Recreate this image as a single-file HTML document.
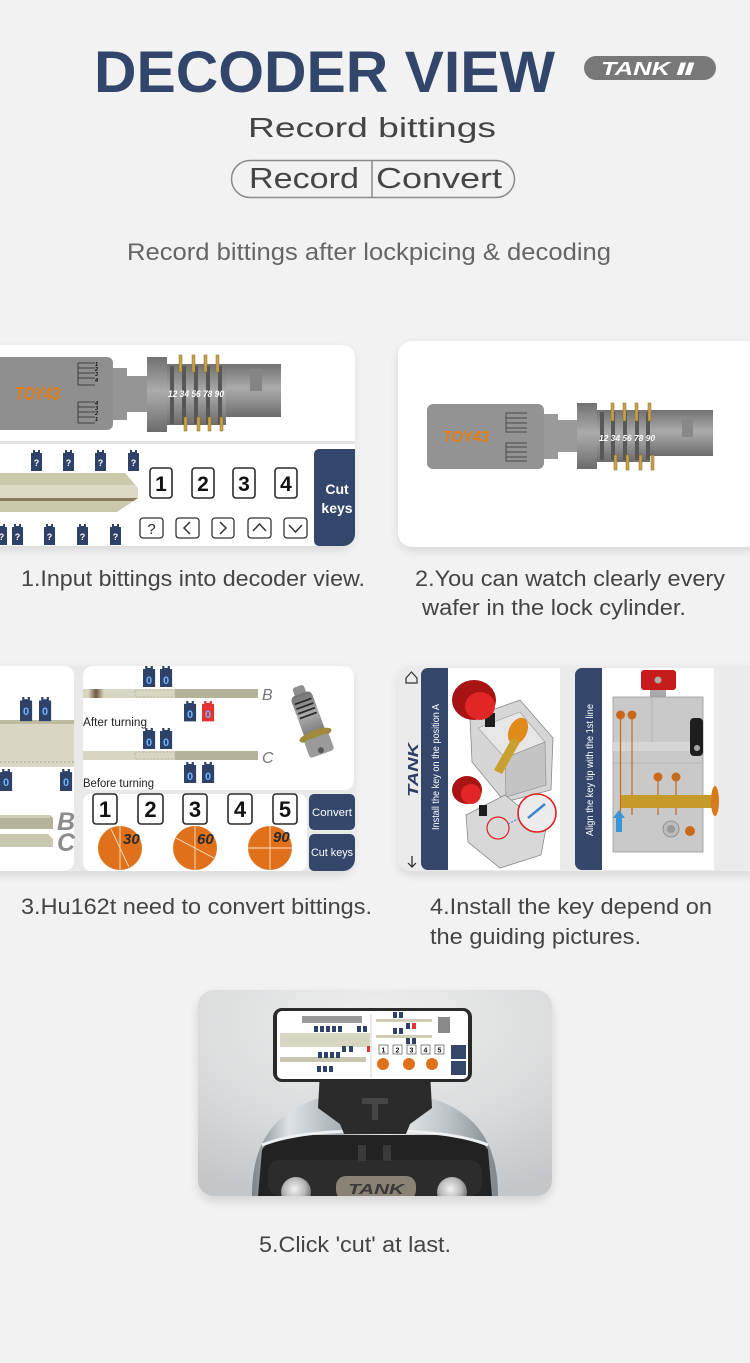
<!DOCTYPE html>
<html><head><meta charset="utf-8"><title>Decoder View</title>
<style>
html,body{margin:0;padding:0;background:#f2f2f2;}
svg{display:block;}
</style></head><body>
<svg width="750" height="1363" viewBox="0 0 750 1363" xmlns="http://www.w3.org/2000/svg" xmlns:xlink="http://www.w3.org/1999/xlink" font-family="'Liberation Sans', Arial, sans-serif">
<defs>
  <filter id="sh" x="-20%" y="-20%" width="140%" height="150%"><feGaussianBlur stdDeviation="5"/></filter>
  <path id="wf" d="M0,3 H2 V0 H4 V2 H7 V0 H9 V3 H11 V21 H0 Z"/>
  <linearGradient id="cyl" x1="0" y1="0" x2="0" y2="1">
    <stop offset="0" stop-color="#727272"/><stop offset="0.45" stop-color="#ababab"/><stop offset="0.6" stop-color="#9c9c9c"/><stop offset="1" stop-color="#6c6c6c"/>
  </linearGradient>
  <linearGradient id="brn" x1="0" y1="0" x2="1" y2="0">
    <stop offset="0" stop-color="#ddd9c6"/><stop offset="0.5" stop-color="#6e5a44"/><stop offset="1" stop-color="#d8d6c2"/>
  </linearGradient>
  <radialGradient id="bg5" cx="0.5" cy="0.15" r="0.9">
    <stop offset="0" stop-color="#efefef"/><stop offset="0.6" stop-color="#d9dbdc"/><stop offset="1" stop-color="#c3c7ca"/>
  </radialGradient>
  <linearGradient id="chrome" x1="0" y1="0" x2="1" y2="0">
    <stop offset="0" stop-color="#7a8287"/><stop offset="0.15" stop-color="#dfe3e6"/><stop offset="0.35" stop-color="#a9b1b6"/><stop offset="0.55" stop-color="#eef0f2"/><stop offset="0.8" stop-color="#bcc3c7"/><stop offset="1" stop-color="#7f868b"/>
  </linearGradient>
  <radialGradient id="spk" cx="0.45" cy="0.4" r="0.6">
    <stop offset="0" stop-color="#f2f2f2"/><stop offset="0.6" stop-color="#b8b8b8"/><stop offset="1" stop-color="#6a6a6a"/>
  </radialGradient>
  <clipPath id="c5"><rect x="198" y="990" width="354" height="206" rx="16"/></clipPath>
  <clipPath id="c1"><rect x="-20" y="345" width="375" height="201" rx="12"/></clipPath>
  <clipPath id="c3"><rect x="-20" y="666" width="375" height="205" rx="12"/></clipPath>
  <clipPath id="blade1"><path d="M0,473 H125 L138,488 V498 L117,512 H0 Z"/></clipPath>
</defs>

<rect width="750" height="1363" fill="#f2f2f2"/>

<!-- HEADER -->
<text x="94" y="92" font-size="58" font-weight="bold" fill="#32466c" textLength="461" lengthAdjust="spacingAndGlyphs">DECODER VIEW</text>
<rect x="584" y="56" width="132" height="24" rx="12" fill="#787878"/>
<text x="601" y="75" font-size="18" font-weight="bold" font-style="italic" fill="#fff" textLength="69" lengthAdjust="spacingAndGlyphs">TANK</text>
<text x="676" y="75" font-size="17" font-weight="bold" font-style="italic" fill="#fff" font-family="'DejaVu Sans', sans-serif" textLength="19" lengthAdjust="spacingAndGlyphs">Ⅱ</text>

<text x="248" y="137" font-size="28" fill="#454545" textLength="248" lengthAdjust="spacingAndGlyphs">Record bittings</text>
<rect x="231.5" y="160.5" width="283" height="37" rx="18.5" fill="none" stroke="#8a8a8a" stroke-width="1.5"/>
<line x1="372" y1="161" x2="372" y2="197" stroke="#8a8a8a" stroke-width="1.5"/>
<text x="249" y="188" font-size="29" fill="#454545" textLength="110" lengthAdjust="spacingAndGlyphs">Record</text>
<text x="376" y="188" font-size="29" fill="#454545" textLength="126" lengthAdjust="spacingAndGlyphs">Convert</text>
<text x="127" y="260" font-size="24" fill="#666" textLength="484" lengthAdjust="spacingAndGlyphs">Record bittings after lockpicing &amp; decoding</text>

<!-- PANEL 1 -->
<rect x="-20" y="349" width="373" height="201" rx="12" fill="#000" opacity="0.10" filter="url(#sh)"/>
<rect x="-20" y="345" width="375" height="201" rx="12" fill="#fff"/>
<g clip-path="url(#c1)">
  <rect x="0" y="441" width="355" height="3" fill="#e2e2e2"/>
  <rect x="-6" y="357" width="119" height="73" rx="6" fill="#8f8f8f"/>
  <text x="15" y="400" font-size="18" font-weight="bold" font-style="italic" fill="#e27d14" textLength="45" lengthAdjust="spacingAndGlyphs">TOY43</text>
  <g stroke="#2a2a2a" stroke-width="0.8" fill="none">
    <path d="M95,363 H78 V385 H95 M78,368 H95 M78,373 H95 M78,378 H95"/>
    <path d="M95,402 H78 V423 H95 M78,407 H95 M78,412 H95 M78,417 H95"/>
  </g>
  <g font-size="5.5" font-weight="bold" font-style="italic" fill="#111">
    <text x="95" y="366">1</text><text x="95" y="371">2</text><text x="95" y="376">3</text><text x="95" y="382">4</text>
    <text x="95" y="405">4</text><text x="95" y="410">3</text><text x="95" y="415">2</text><text x="95" y="421">1</text>
  </g>
  <path d="M113,368 H127 V376 H148 V412 H127 V420 H113 Z" fill="#959595"/>
  <rect x="226" y="364" width="55" height="53" fill="url(#cyl)"/>
  <rect x="250" y="369" width="12" height="22" fill="#858585"/>
  <rect x="167" y="364" width="59" height="61" fill="url(#cyl)"/>
  <g fill="#575757">
    <rect x="170" y="366" width="4" height="58"/><rect x="182" y="366" width="4" height="58"/>
    <rect x="194" y="366" width="4" height="58"/><rect x="206" y="366" width="4" height="58"/>
    <rect x="218" y="366" width="4" height="58"/>
  </g>
  <rect x="147" y="357" width="20" height="75" fill="url(#cyl)"/>
  <g fill="#c9a24a" stroke="#8a6a20" stroke-width="0.5">
    <rect x="179" y="355" width="3" height="17"/><rect x="192" y="355" width="3" height="17"/>
    <rect x="204" y="355" width="3" height="17"/><rect x="216" y="355" width="3" height="17"/>
    <rect x="184" y="417" width="3" height="14"/><rect x="197" y="417" width="3" height="14"/>
    <rect x="208" y="417" width="3" height="14"/><rect x="220" y="417" width="3" height="14"/>
  </g>
  <text x="168" y="397" font-size="9" font-weight="bold" font-style="italic" fill="#fff" textLength="56" lengthAdjust="spacingAndGlyphs">12 34 56 78 90</text>

  <g clip-path="url(#blade1)">
    <rect x="0" y="473" width="140" height="40" fill="#cbc9ab"/>
    <rect x="0" y="485" width="140" height="13" fill="#dcdac5"/>
    <rect x="0" y="498" width="140" height="3" fill="#8b7b5e"/>
  </g>
  <g fill="#2e4168">
    <use xlink:href="#wf" x="31" y="450"/><use xlink:href="#wf" x="63" y="450"/>
    <use xlink:href="#wf" x="95" y="450"/><use xlink:href="#wf" x="128" y="450"/>
    <use xlink:href="#wf" x="-4" y="524"/><use xlink:href="#wf" x="12" y="524"/>
    <use xlink:href="#wf" x="44" y="524"/><use xlink:href="#wf" x="77" y="524"/>
    <use xlink:href="#wf" x="110" y="524"/>
  </g>
  <g font-size="9" font-weight="bold" fill="#fff" text-anchor="middle">
    <text x="36.5" y="466">?</text><text x="68.5" y="466">?</text><text x="100.5" y="466">?</text><text x="133.5" y="466">?</text>
    <text x="1.5" y="540">?</text><text x="17.5" y="540">?</text><text x="49.5" y="540">?</text><text x="82.5" y="540">?</text><text x="115.5" y="540">?</text>
  </g>
  <g fill="#fff" stroke="#2b2b2b" stroke-width="1.6">
    <rect x="150" y="468" width="22" height="30" rx="3"/><rect x="192" y="468" width="22" height="30" rx="3"/>
    <rect x="233" y="468" width="22" height="30" rx="3"/><rect x="275" y="468" width="22" height="30" rx="3"/>
  </g>
  <g font-size="21" font-weight="bold" fill="#111" text-anchor="middle">
    <text x="161" y="491">1</text><text x="203" y="491">2</text><text x="244" y="491">3</text><text x="286" y="491">4</text>
  </g>
  <g fill="#fff" stroke="#333" stroke-width="1.3">
    <rect x="140" y="518" width="23" height="20" rx="3"/><rect x="176" y="518" width="23" height="20" rx="3"/>
    <rect x="212" y="518" width="22" height="20" rx="3"/><rect x="248" y="518" width="23" height="20" rx="3"/>
    <rect x="284" y="518" width="23" height="20" rx="3"/>
  </g>
  <text x="151.5" y="534" font-size="15" fill="#222" text-anchor="middle">?</text>
  <g fill="none" stroke="#333" stroke-width="1.5">
    <polyline points="190,522 184,528 190,534"/><polyline points="220,522 226,528 220,534"/>
    <polyline points="253,531 259.5,524 266,531"/><polyline points="289,525 295.5,532 302,525"/>
  </g>
  <rect x="314" y="449" width="50" height="97" rx="5" fill="#33466b"/>
  <text x="337" y="494" font-size="14" font-weight="bold" fill="#fff" text-anchor="middle">Cut</text>
  <text x="337" y="513" font-size="14" font-weight="bold" fill="#fff" text-anchor="middle">keys</text>
</g>

<!-- PANEL 2 -->
<rect x="398" y="345" width="362" height="206" rx="14" fill="#000" opacity="0.10" filter="url(#sh)"/>
<rect x="398" y="341" width="362" height="206" rx="14" fill="#fff"/>
<rect x="427" y="404" width="117" height="65" rx="6" fill="#939393"/>
<text x="443" y="442" font-size="16" font-weight="bold" font-style="italic" fill="#e27d14" textLength="46" lengthAdjust="spacingAndGlyphs">TOY43</text>
<g stroke="#333" stroke-width="0.7" fill="none">
  <path d="M527,413 H506 V432 H527 M506,418 H527 M506,423 H527 M506,428 H527"/>
  <path d="M527,443 H506 V461 H527 M506,447 H527 M506,452 H527 M506,457 H527"/>
</g>
<path d="M544,414 H558 V420 H577 V452 H558 V459 H544 Z" fill="#9a9a9a"/>
<rect x="650" y="410" width="63" height="46" fill="url(#cyl)"/>
<rect x="682" y="417" width="11" height="20" fill="#888"/>
<rect x="597" y="410" width="53" height="52" fill="url(#cyl)"/>
<g fill="#585858">
  <rect x="600" y="412" width="4" height="48"/><rect x="611" y="412" width="4" height="48"/>
  <rect x="623" y="412" width="4" height="48"/><rect x="635" y="412" width="4" height="48"/>
  <rect x="646" y="412" width="4" height="48"/>
</g>
<rect x="577" y="403" width="20" height="66" fill="url(#cyl)"/>
<g fill="#c9a24a" stroke="#8a6a20" stroke-width="0.5">
  <rect x="611" y="403" width="3" height="18"/><rect x="623" y="403" width="3" height="18"/>
  <rect x="635" y="403" width="3" height="18"/><rect x="648" y="403" width="3" height="18"/>
  <rect x="614" y="455" width="3" height="15"/><rect x="626" y="455" width="3" height="15"/>
  <rect x="639" y="455" width="3" height="15"/><rect x="651" y="455" width="3" height="15"/>
</g>
<text x="599" y="441" font-size="8.5" font-weight="bold" font-style="italic" fill="#fff" textLength="56" lengthAdjust="spacingAndGlyphs">12 34 56 78 90</text>

<!-- PANEL 3 -->
<rect x="-20" y="670" width="373" height="205" rx="12" fill="#000" opacity="0.10" filter="url(#sh)"/>
<rect x="-20" y="666" width="375" height="205" rx="12" fill="#e9e9e9"/>
<g clip-path="url(#c3)">
  <rect x="-10" y="666" width="84" height="205" rx="10" fill="#fff"/>
  <rect x="83" y="666" width="271" height="124" rx="10" fill="#fff"/>
  <rect x="83" y="794" width="224" height="77" rx="8" fill="#fff"/>
  <rect x="309" y="794" width="46" height="36" rx="5" fill="#34476b"/>
  <rect x="309" y="834" width="46" height="37" rx="5" fill="#34476b"/>
  <text x="332" y="816" font-size="11" fill="#fff" text-anchor="middle" textLength="40" lengthAdjust="spacingAndGlyphs">Convert</text>
  <text x="332" y="856" font-size="11" fill="#fff" text-anchor="middle" textLength="42" lengthAdjust="spacingAndGlyphs">Cut keys</text>

  <rect x="0" y="720" width="74" height="47" fill="#d9d7c3"/>
  <rect x="0" y="720" width="74" height="4" fill="#bcba9f"/>
  <line x1="0" y1="762" x2="74" y2="762" stroke="#aaa893" stroke-width="1" stroke-dasharray="2,2"/>
  <g fill="#2e4168">
    <use xlink:href="#wf" transform="translate(20,697) scale(1.1,1.15)"/>
    <use xlink:href="#wf" transform="translate(39,697) scale(1.1,1.15)"/>
    <use xlink:href="#wf" transform="translate(0,769) scale(1.1,1.05)"/>
    <use xlink:href="#wf" transform="translate(60,769) scale(1.1,1.05)"/>
  </g>
  <g font-size="11" font-weight="bold" fill="#6fb4ff" text-anchor="middle">
    <text x="26" y="715">0</text><text x="45" y="715">0</text>
    <text x="6" y="786">0</text><text x="66" y="786">0</text>
  </g>
  <path d="M0,815 H50 L53,818 V829 H0 Z" fill="#b5b398"/>
  <rect x="0" y="815" width="50" height="3" fill="#cfcdb5"/>
  <path d="M0,834 H48 L53,839 V847 H0 Z" fill="#c9c7ae"/>
  <text x="57" y="830" font-size="25" font-weight="bold" font-style="italic" fill="#8c8c8c">B</text>
  <text x="57" y="851" font-size="25" font-weight="bold" font-style="italic" fill="#8c8c8c">C</text>

  <rect x="83" y="689" width="175" height="9" fill="#d8d6c2"/>
  <rect x="88" y="689" width="16" height="9" fill="url(#brn)"/>
  <path d="M175,689 H258 V698 H175 Z" fill="#b4b298"/>
  <rect x="135" y="690" width="40" height="7" fill="none" stroke="#b3b19b" stroke-width="0.8" stroke-dasharray="2,1.5"/>
  <text x="262" y="700" font-size="16" font-style="italic" fill="#777">B</text>

  <rect x="83" y="751" width="175" height="9" fill="#d8d6c2"/>
  <path d="M175,751 H258 V760 H175 Z" fill="#b4b298"/>
  <rect x="135" y="752" width="40" height="7" fill="none" stroke="#b3b19b" stroke-width="0.8" stroke-dasharray="2,1.5"/>
  <text x="262" y="763" font-size="16" font-style="italic" fill="#777">C</text>

  <g fill="#2e4168">
    <use xlink:href="#wf" transform="translate(143,666) scale(1.1,1)"/>
    <use xlink:href="#wf" transform="translate(160,666) scale(1.1,1)"/>
    <use xlink:href="#wf" transform="translate(184,701) scale(1.1,0.97)"/>
    <use xlink:href="#wf" transform="translate(143,728) scale(1.1,1)"/>
    <use xlink:href="#wf" transform="translate(160,728) scale(1.1,1)"/>
    <use xlink:href="#wf" transform="translate(184,762) scale(1.1,1)"/>
    <use xlink:href="#wf" transform="translate(202,762) scale(1.1,1)"/>
  </g>
  <use xlink:href="#wf" transform="translate(202,701) scale(1.1,0.97)" fill="#e53232"/>
  <g font-size="11" font-weight="bold" fill="#6fb4ff" text-anchor="middle">
    <text x="149" y="684">0</text><text x="166" y="684">0</text>
    <text x="190" y="718">0</text><text x="208" y="718">0</text>
    <text x="149" y="746">0</text><text x="166" y="746">0</text>
    <text x="190" y="780">0</text><text x="208" y="780">0</text>
  </g>
  <text x="83" y="726" font-size="11.5" fill="#222" textLength="64" lengthAdjust="spacingAndGlyphs">After turning</text>
  <text x="83" y="787" font-size="11.5" fill="#222" textLength="71" lengthAdjust="spacingAndGlyphs">Before turning</text>

  <g transform="rotate(-20 311 723)">
    <rect x="305" y="684" width="12" height="10" rx="3" fill="#8e8e8e"/>
    <rect x="300" y="692" width="22" height="48" rx="5" fill="url(#cyl)"/>
    <g stroke="#2a2a2a" stroke-width="1.8">
      <line x1="302" y1="700" x2="320" y2="700"/><line x1="302" y1="705" x2="320" y2="705"/>
      <line x1="302" y1="710" x2="320" y2="710"/><line x1="302" y1="715" x2="320" y2="715"/>
    </g>
    <ellipse cx="311" cy="736" rx="17" ry="5" fill="#a08a3c"/>
    <rect x="298" y="738" width="26" height="18" rx="3" fill="#9a9a9a"/>
    <circle cx="311" cy="752" r="3" fill="#555"/>
  </g>

  <g fill="#fff" stroke="#2b2b2b" stroke-width="1.6">
    <rect x="93" y="794" width="24" height="30" rx="3"/><rect x="138" y="794" width="25" height="30" rx="3"/>
    <rect x="183" y="794" width="24" height="30" rx="3"/><rect x="228" y="794" width="24" height="30" rx="3"/>
    <rect x="273" y="794" width="24" height="30" rx="3"/>
  </g>
  <g font-size="22" font-weight="bold" fill="#111" text-anchor="middle">
    <text x="105" y="817">1</text><text x="150.5" y="817">2</text><text x="195" y="817">3</text><text x="240" y="817">4</text><text x="285" y="817">5</text>
  </g>
  <g fill="#e0701a">
    <circle cx="120" cy="848" r="22"/><circle cx="195" cy="848" r="22"/><circle cx="270" cy="848" r="22"/>
  </g>
  <g stroke="#fbe3c6" stroke-width="0.9">
    <line x1="120" y1="826" x2="120" y2="870"/><line x1="111" y1="829" x2="129" y2="867"/>
    <line x1="195" y1="826" x2="195" y2="870"/><line x1="176" y1="838" x2="214" y2="858"/>
    <line x1="270" y1="826" x2="270" y2="870"/><line x1="248" y1="848" x2="292" y2="848"/>
  </g>
  <g font-size="15" font-weight="bold" font-style="italic" fill="#2a2a2a">
    <text x="123" y="844">30</text><text x="197" y="844">60</text><text x="273" y="842">90</text>
  </g>
</g>

<!-- PANEL 4 -->
<rect x="398" y="670" width="362" height="205" rx="12" fill="#000" opacity="0.10" filter="url(#sh)"/>
<rect x="398" y="666" width="362" height="205" rx="12" fill="#ebebeb"/>
<path d="M406,678 L411.5,672 L417,678 V683 H406 Z" fill="none" stroke="#333" stroke-width="1.2"/>
<g stroke="#222" stroke-width="1.2" fill="none">
  <line x1="412" y1="856" x2="412" y2="867"/><polyline points="408,863 412,867 416,863"/>
</g>
<text transform="translate(418,770) rotate(-90)" text-anchor="middle" font-size="15" font-weight="bold" font-style="italic" fill="#2c3e66" textLength="54" lengthAdjust="spacingAndGlyphs">TANK</text>
<rect x="421" y="668" width="27" height="202" rx="7" fill="#34476b"/>
<rect x="440" y="668" width="8" height="202" fill="#34476b"/>
<text transform="translate(439,767) rotate(-90)" text-anchor="middle" font-size="10.5" fill="#fff" textLength="126" lengthAdjust="spacingAndGlyphs">Install the key on the position A</text>
<rect x="448" y="668" width="112" height="202" fill="#fff"/>
<path d="M470,718 L520,700 L553,738 L551,790 L505,802 L472,762 Z" fill="#d6d6d6" stroke="#8a8a8a" stroke-width="0.8"/>
<path d="M478,728 L520,712 L545,742 L505,758 Z" fill="#e6e6e6" stroke="#9a9a9a" stroke-width="0.6"/>
<path d="M505,758 L545,742 L546,785 L506,797 Z" fill="#c4c4c4" stroke="#8a8a8a" stroke-width="0.6"/>
<rect x="485" y="713" width="10" height="14" fill="#1e1e1e"/>
<ellipse cx="474" cy="700" rx="22" ry="20" fill="#a81414"/>
<ellipse cx="480" cy="706" rx="15" ry="14" fill="#e22626"/>
<ellipse cx="518" cy="731" rx="9" ry="14" transform="rotate(25 518 731)" fill="#e08a1a"/>
<path d="M512,738 L520,742 L502,774 L494,770 Z" fill="#c9a030"/>
<path d="M466,815 L505,795 L546,828 L541,855 L500,868 L468,842 Z" fill="#d8d8d8" stroke="#8a8a8a" stroke-width="0.8"/>
<rect x="479" y="805" width="8" height="11" fill="#1e1e1e"/>
<ellipse cx="467" cy="790" rx="15" ry="14" fill="#a81414"/>
<ellipse cx="471" cy="794" rx="10" ry="10" fill="#e22626"/>
<circle cx="498" cy="828" r="11" fill="none" stroke="#e02020" stroke-width="1.2"/>
<circle cx="537" cy="813" r="19" fill="#ececec" stroke="#e02020" stroke-width="1.6"/>
<path d="M528,818 L545,804" stroke="#3a86d0" stroke-width="2.5"/>
<line x1="508" y1="824" x2="520" y2="818" stroke="#3a86d0" stroke-width="1" stroke-dasharray="2,1.5"/>

<rect x="575" y="668" width="27" height="202" rx="7" fill="#34476b"/>
<rect x="594" y="668" width="8" height="202" fill="#34476b"/>
<text transform="translate(593,770) rotate(-90)" text-anchor="middle" font-size="10.5" fill="#fff" textLength="132" lengthAdjust="spacingAndGlyphs">Align the key tip with the 1st line</text>
<rect x="602" y="668" width="112" height="202" fill="#fff"/>
<rect x="650" y="689" width="16" height="9" fill="#aaa"/>
<rect x="613" y="697" width="90" height="155" fill="#c9c9c9" stroke="#9a9a9a" stroke-width="0.8"/>
<rect x="613" y="742" width="90" height="9" fill="#d6d6d6"/>
<line x1="613" y1="763" x2="703" y2="763" stroke="#b0b0b0" stroke-width="0.8"/>
<line x1="652" y1="697" x2="652" y2="742" stroke="#b0b0b0" stroke-width="0.8"/>
<rect x="641" y="670" width="35" height="20" rx="3" fill="#c81c1c"/>
<circle cx="658" cy="680" r="3.5" fill="#aaa"/>
<g stroke="#c86a1a" stroke-width="1.2">
  <line x1="620.5" y1="717" x2="620.5" y2="815"/><line x1="632" y1="717" x2="632" y2="815"/>
  <line x1="658" y1="780" x2="658" y2="815"/><line x1="676" y1="780" x2="676" y2="815"/>
</g>
<g fill="#c86a1a">
  <circle cx="620.5" cy="715" r="4.5"/><circle cx="632" cy="715" r="4.5"/>
  <circle cx="658" cy="777" r="4.5"/><circle cx="676" cy="777" r="4.5"/>
  <circle cx="690" cy="831" r="5"/>
</g>
<rect x="690" y="718" width="13" height="38" rx="4" fill="#1e1e1e"/>
<circle cx="697" cy="748" r="3" fill="#aaa"/>
<rect x="621" y="795" width="92" height="13" fill="#c59a2a"/>
<ellipse cx="715" cy="801" rx="4" ry="15" fill="#d87a1a"/>
<path d="M619,810 L625,818 L622,818 L622,832 L616,832 L616,818 L613,818 Z" fill="#3a94d8"/>
<circle cx="671" cy="829" r="8" fill="#bcbcbc" stroke="#888" stroke-width="0.8"/>
<circle cx="671" cy="829" r="4" fill="#999"/>

<!-- PANEL 5 -->
<rect x="198" y="995" width="354" height="206" rx="16" fill="#000" opacity="0.12" filter="url(#sh)"/>
<g clip-path="url(#c5)">
  <rect x="198" y="990" width="354" height="206" fill="url(#bg5)"/>
  <path d="M252,1196 C252,1130 285,1094 375,1089 C465,1094 498,1130 498,1196 Z" fill="url(#chrome)"/>
  <path d="M258,1196 L262,1150 Q268,1137 300,1135 L450,1135 Q482,1137 488,1150 L492,1196 Z" fill="#222"/>
  <path d="M262,1145 Q300,1130 375,1131 Q450,1130 488,1145" fill="none" stroke="#eef0f2" stroke-width="3"/>
  <rect x="268" y="1160" width="214" height="36" rx="12" fill="#2c2c2c"/>
  <circle cx="296" cy="1192" r="15" fill="url(#spk)"/>
  <circle cx="452" cy="1192" r="15" fill="url(#spk)"/>
  <rect x="336" y="1176" width="80" height="24" rx="10" fill="#8a8274"/>
  <text x="376" y="1194" font-size="15" font-weight="bold" font-style="italic" fill="#3a3a3a" text-anchor="middle" textLength="56" lengthAdjust="spacingAndGlyphs">TANK</text>
  <rect x="358" y="1145" width="8" height="16" fill="#3a3a3a"/><rect x="383" y="1145" width="8" height="16" fill="#3a3a3a"/>
  <path d="M320,1072 L352,1070 L360,1082 L390,1082 L398,1070 L430,1072 L432,1108 L410,1124 L406,1134 L344,1134 L340,1124 L318,1108 Z" fill="#2b2b2b"/>
  <path d="M362,1098 H388 V1104 H378 V1120 H372 V1104 H362 Z" fill="#454545"/>
  <rect x="273" y="1008" width="199" height="74" rx="9" fill="#2a2a2a"/>
  <rect x="277" y="1011" width="191" height="68" rx="5" fill="#fff"/>
  <line x1="371" y1="1014" x2="371" y2="1078" stroke="#ccc" stroke-width="0.8"/>
  <rect x="302" y="1016" width="60" height="7" fill="#9a9a9a"/>
  <rect x="280" y="1033" width="90" height="14" fill="#d8d6c0"/>
  <rect x="280" y="1057" width="86" height="5" fill="#c8c6ae"/>
  <rect x="376" y="1019" width="56" height="3" fill="#d0ceb6"/>
  <rect x="376" y="1035" width="56" height="3" fill="#d0ceb6"/>
  <rect x="438" y="1017" width="12" height="16" fill="#8a8a8a"/>
  <g fill="#2e4168">
    <rect x="314" y="1026" width="4" height="6"/><rect x="320" y="1026" width="4" height="6"/><rect x="326" y="1026" width="4" height="6"/>
    <rect x="332" y="1026" width="4" height="6"/><rect x="338" y="1026" width="4" height="6"/><rect x="357" y="1026" width="4" height="6"/><rect x="363" y="1026" width="4" height="6"/>
    <rect x="342" y="1046" width="4" height="6"/><rect x="349" y="1046" width="4" height="6"/>
    <rect x="318" y="1052" width="4" height="6"/><rect x="324" y="1052" width="4" height="6"/><rect x="330" y="1052" width="4" height="6"/><rect x="336" y="1052" width="4" height="6"/>
    <rect x="317" y="1066" width="4" height="6"/><rect x="323" y="1066" width="4" height="6"/><rect x="329" y="1066" width="4" height="6"/>
    <rect x="393" y="1012" width="4" height="6"/><rect x="399" y="1012" width="4" height="6"/>
    <rect x="406" y="1023" width="4" height="6"/>
    <rect x="393" y="1028" width="4" height="6"/><rect x="399" y="1028" width="4" height="6"/>
    <rect x="406" y="1038" width="4" height="6"/><rect x="412" y="1038" width="4" height="6"/>
  </g>
  <rect x="412" y="1023" width="4" height="6" fill="#e53232"/>
  <rect x="367" y="1046" width="3" height="6" fill="#e53232"/>
  <g fill="#fff" stroke="#333" stroke-width="0.6">
    <rect x="379" y="1045" width="9" height="9"/><rect x="393" y="1045" width="9" height="9"/><rect x="407" y="1045" width="9" height="9"/>
    <rect x="421" y="1045" width="9" height="9"/><rect x="435" y="1045" width="9" height="9"/>
  </g>
  <g font-size="7" font-weight="bold" fill="#111" text-anchor="middle">
    <text x="383.5" y="1052.5">1</text><text x="397.5" y="1052.5">2</text><text x="411.5" y="1052.5">3</text><text x="425.5" y="1052.5">4</text><text x="439.5" y="1052.5">5</text>
  </g>
  <g fill="#e0701a"><circle cx="383" cy="1064" r="6"/><circle cx="409" cy="1064" r="6"/><circle cx="432" cy="1064" r="6"/></g>
  <rect x="451" y="1045" width="15" height="14" fill="#34476b"/>
  <rect x="451" y="1061" width="15" height="14" fill="#34476b"/>
</g>

<!-- CAPTIONS -->
<g font-size="22" fill="#444">
  <text x="21" y="586" textLength="344" lengthAdjust="spacingAndGlyphs">1.Input bittings into decoder view.</text>
  <text x="415" y="586" textLength="310" lengthAdjust="spacingAndGlyphs">2.You can watch clearly every</text>
  <text x="422" y="615" textLength="264" lengthAdjust="spacingAndGlyphs">wafer in the lock cylinder.</text>
  <text x="21" y="914" textLength="351" lengthAdjust="spacingAndGlyphs">3.Hu162t need to convert bittings.</text>
  <text x="430" y="914" textLength="282" lengthAdjust="spacingAndGlyphs">4.Install the key depend on</text>
  <text x="430" y="944" textLength="211" lengthAdjust="spacingAndGlyphs">the guiding pictures.</text>
  <text x="259" y="1252" textLength="192" lengthAdjust="spacingAndGlyphs">5.Click 'cut' at last.</text>
</g>
</svg>
</body></html>
